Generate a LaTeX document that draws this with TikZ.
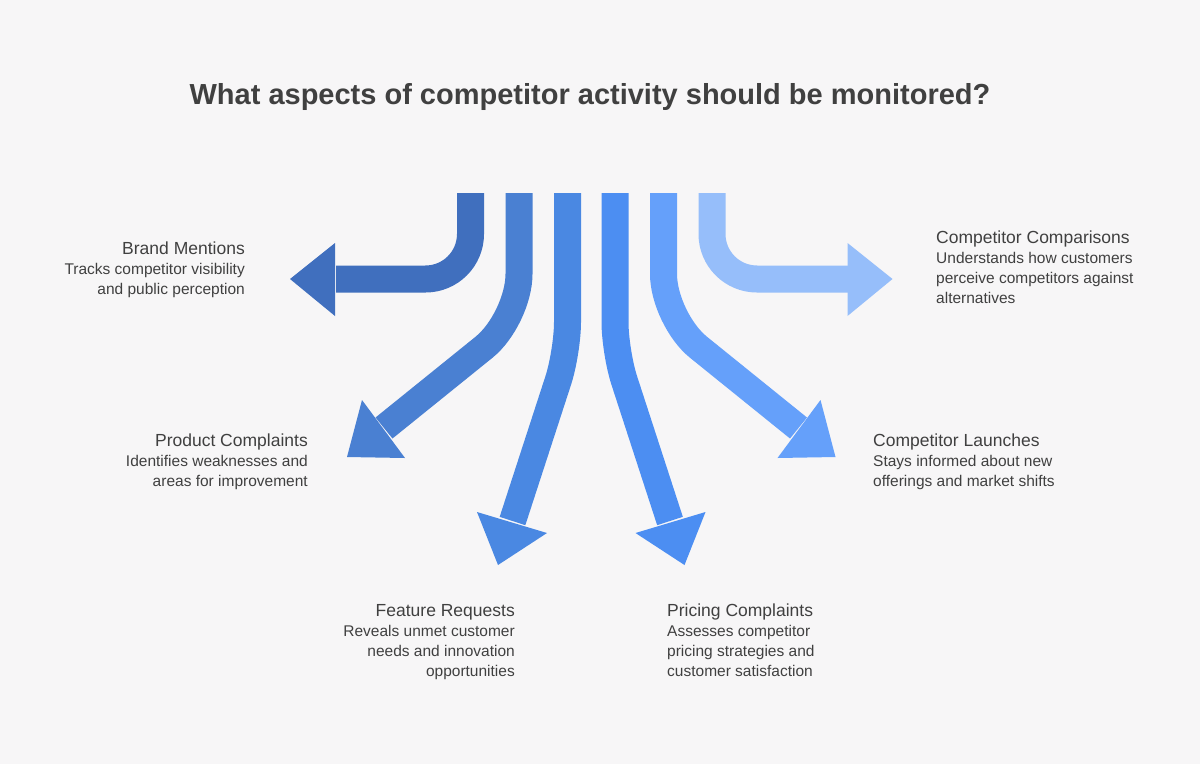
\documentclass[tikz,border=0pt]{standalone}
\usepackage{fontspec}
\setmainfont{Liberation Sans}
\newcommand\hdfont{\fontsize{17.5}{20}\selectfont}
\begin{document}
\begin{tikzpicture}[x=1pt,y=-1pt,
  shaft/.style={line width=27pt},
  lblR/.style={anchor=north east,align=right,inner sep=0pt,text=txt,font=\fontsize{15.5}{20}\selectfont},
  lblL/.style={anchor=north west,align=left,inner sep=0pt,text=txt,font=\fontsize{15.5}{20}\selectfont}]
\definecolor{bg}{HTML}{F7F6F7}
\definecolor{txt}{HTML}{404040}
\definecolor{ca}{HTML}{406FBE}
\definecolor{cb}{HTML}{4A80D2}
\definecolor{cc}{HTML}{4A88E2}
\definecolor{cd}{HTML}{4C8EF2}
\definecolor{ce}{HTML}{65A0FA}
\definecolor{cf}{HTML}{96BEFA}
\fill[bg] (0,0) rectangle (1200,764);
\useasboundingbox (0,0) rectangle (1200,764);
\node[font=\bfseries\fontsize{29}{34}\selectfont,text=txt] (title) at (590,97) {What aspects of competitor activity should be monitored?};
% arrows
\draw[shaft,ca,rounded corners=45pt] (470.5,193) -- (470.5,279) -- (336,279);
\fill[ca] (335,243) -- (290,279) -- (335,316) -- cycle;
\draw[shaft,cb,rounded corners=45pt] (519,193) -- (519,319) -- (384,428);
\fill[cb] (362,400) -- (347,457) -- (405,458) -- cycle;
\draw[shaft,cc,rounded corners=30pt] (567.5,193) -- (567.5,352) -- (512.5,521);
\fill[cc] (477,512) -- (498,565) -- (547,533) -- cycle;
\draw[shaft,cd,rounded corners=30pt] (615,193) -- (615,352) -- (670,521);
\fill[cd] (705.5,512) -- (684.5,565) -- (635.5,533) -- cycle;
\draw[shaft,ce,rounded corners=45pt] (663.5,193) -- (663.5,319) -- (798.5,428);
\fill[ce] (820.5,400) -- (835.5,457) -- (777.5,458) -- cycle;
\draw[shaft,cf,rounded corners=45pt] (712,193) -- (712,279) -- (848.5,279);
\fill[cf] (847.5,243) -- (892.5,279) -- (847.5,316) -- cycle;
% labels
\node[lblR] (l1) at (245,242) {{\hdfont Brand Mentions}\\Tracks competitor visibility\\and public perception};
\node[lblR] (l2) at (308,434) {{\hdfont Product Complaints}\\Identifies weaknesses and\\areas for improvement};
\node[lblR] (l3) at (515,604) {{\hdfont Feature Requests}\\Reveals unmet customer\\needs and innovation\\opportunities};
\node[lblL] (r1) at (936,231) {{\hdfont Competitor Comparisons}\\Understands how customers\\perceive competitors against\\alternatives};
\node[lblL] (r2) at (873,434) {{\hdfont Competitor Launches}\\Stays informed about new\\offerings and market shifts};
\node[lblL] (r3) at (667,604) {{\hdfont Pricing Complaints}\\Assesses competitor\\pricing strategies and\\customer satisfaction};
\end{tikzpicture}
\end{document}
